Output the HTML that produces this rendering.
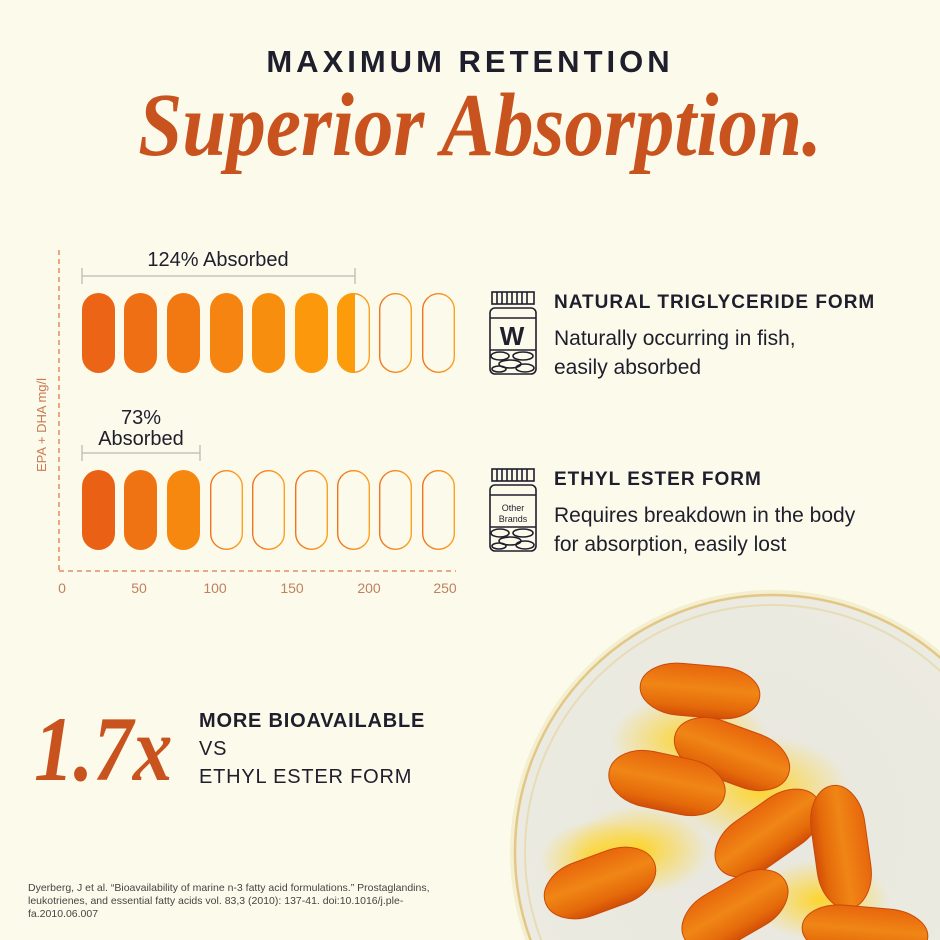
<!DOCTYPE html>
<html><head><meta charset="utf-8"><style>
html,body{margin:0;padding:0;background:#fcfbeb;overflow:hidden;width:940px;height:940px}
svg{display:block}
text{font-family:"Liberation Sans",sans-serif;}
</style></head><body>
<svg width="940" height="940" viewBox="0 0 940 940" xmlns="http://www.w3.org/2000/svg">
<defs>
<linearGradient id="ol" x1="0" x2="1">
<stop offset="0" stop-color="#f07420"/><stop offset="1" stop-color="#fca020"/>
</linearGradient>
<radialGradient id="dish" cx="0.45" cy="0.45" r="0.6">
<stop offset="0" stop-color="#e8e7df"/><stop offset="0.85" stop-color="#ecebe1"/><stop offset="1" stop-color="#f1eed8"/>
</radialGradient>
<linearGradient id="cap" x1="0" y1="0" x2="0" y2="1">
<stop offset="0" stop-color="#e8660c"/><stop offset="0.45" stop-color="#f08616"/><stop offset="0.8" stop-color="#e56a0a"/><stop offset="1" stop-color="#d24e08"/>
</linearGradient>
<radialGradient id="glow" cx="0.5" cy="0.5" r="0.5">
<stop offset="0" stop-color="#ffd21e" stop-opacity="0.9"/><stop offset="1" stop-color="#ffd21e" stop-opacity="0"/>
</radialGradient>
<clipPath id="pc"><rect x="337" y="293" width="18" height="80"/></clipPath>
<clipPath id="frame"><rect x="0" y="0" width="940" height="940"/></clipPath>
</defs>

<text x="470" y="72" text-anchor="middle" font-size="31" font-weight="bold" fill="#1f1e2c" letter-spacing="4">MAXIMUM RETENTION</text>
<text x="0" y="0" transform="translate(480,155) scale(0.88,1)" text-anchor="middle" font-style="italic" font-weight="bold" font-size="90" fill="#c9531e" style="font-family:'Liberation Serif',serif">Superior Absorption.</text>

<line x1="59" y1="250" x2="59" y2="571" stroke="#e07848" stroke-width="1.3" stroke-dasharray="5,4"/>
<line x1="59" y1="571" x2="456" y2="571" stroke="#e07848" stroke-width="1.3" stroke-dasharray="5,4"/>
<g font-size="14" fill="#c08060" text-anchor="middle">
<text x="62" y="593">0</text><text x="139" y="593">50</text><text x="215" y="593">100</text><text x="292" y="593">150</text><text x="369" y="593">200</text><text x="445" y="593">250</text>
</g>
<text transform="translate(46,425) rotate(-90)" text-anchor="middle" font-size="13" fill="#c97a50">EPA + DHA mg/l</text>

<g stroke="#bdbab0" stroke-width="1.3" fill="none">
<line x1="82" y1="276" x2="355" y2="276"/><line x1="82" y1="268" x2="82" y2="284"/><line x1="355" y1="268" x2="355" y2="284"/>
<line x1="82" y1="453" x2="200" y2="453"/><line x1="82" y1="445" x2="82" y2="461"/><line x1="200" y1="445" x2="200" y2="461"/>
</g>
<text x="218" y="266" text-anchor="middle" font-size="20" fill="#1f1e2c">124% Absorbed</text>
<text x="141" y="424" text-anchor="middle" font-size="20" fill="#1f1e2c">73%</text>
<text x="141" y="445" text-anchor="middle" font-size="20" fill="#1f1e2c">Absorbed</text>

<g>
<rect x="82" y="293" width="33" height="80" rx="16.5" fill="#ec6416"/>
<rect x="124" y="293" width="33" height="80" rx="16.5" fill="#ef6f14"/>
<rect x="167" y="293" width="33" height="80" rx="16.5" fill="#f27912"/>
<rect x="210" y="293" width="33" height="80" rx="16.5" fill="#f58410"/>
<rect x="252" y="293" width="33" height="80" rx="16.5" fill="#f88e0e"/>
<rect x="295" y="293" width="33" height="80" rx="16.5" fill="#fb980c"/>
<rect x="337.7" y="293.7" width="31.6" height="78.6" rx="15.8" fill="none" stroke="url(#ol)" stroke-width="1.4"/>
<rect x="337" y="293" width="33" height="80" rx="16.5" fill="#fc9c0b" clip-path="url(#pc)"/>
<rect x="379.7" y="293.7" width="31.6" height="78.6" rx="15.8" fill="none" stroke="url(#ol)" stroke-width="1.4"/>
<rect x="422.7" y="293.7" width="31.6" height="78.6" rx="15.8" fill="none" stroke="url(#ol)" stroke-width="1.4"/>
</g>
<g>
<rect x="82" y="470" width="33" height="80" rx="16.5" fill="#ea6015"/>
<rect x="124" y="470" width="33" height="80" rx="16.5" fill="#f07313"/>
<rect x="167" y="470" width="33" height="80" rx="16.5" fill="#f68810"/>
<g fill="none" stroke="url(#ol)" stroke-width="1.4">
<rect x="210.7" y="470.7" width="31.6" height="78.6" rx="15.8"/>
<rect x="252.7" y="470.7" width="31.6" height="78.6" rx="15.8"/>
<rect x="295.7" y="470.7" width="31.6" height="78.6" rx="15.8"/>
<rect x="337.7" y="470.7" width="31.6" height="78.6" rx="15.8"/>
<rect x="379.7" y="470.7" width="31.6" height="78.6" rx="15.8"/>
<rect x="422.7" y="470.7" width="31.6" height="78.6" rx="15.8"/>
</g>
</g>

<g stroke="#1f1e2c" stroke-width="1.6" fill="none">
<rect x="492" y="292" width="42" height="12"/>
<path d="M497 292v12M502 292v12M507 292v12M512 292v12M517 292v12M522 292v12M527 292v12"/>
<rect x="490" y="308" width="46" height="66" rx="5"/>
<line x1="490" y1="318" x2="536" y2="318"/><line x1="490" y1="350" x2="536" y2="350"/>
<ellipse cx="500" cy="356" rx="9" ry="4"/><ellipse cx="523" cy="356" rx="10" ry="4"/><ellipse cx="510" cy="364" rx="11" ry="4"/><ellipse cx="499" cy="369" rx="7" ry="3"/><ellipse cx="525" cy="368" rx="9" ry="4"/>
</g>
<text x="512" y="345" text-anchor="middle" font-size="26" font-weight="bold" fill="#1f1e2c">W</text>
<g stroke="#1f1e2c" stroke-width="1.6" fill="none">
<rect x="492" y="469" width="42" height="12"/>
<path d="M497 469v12M502 469v12M507 469v12M512 469v12M517 469v12M522 469v12M527 469v12"/>
<rect x="490" y="485" width="46" height="66" rx="5"/>
<line x1="490" y1="495" x2="536" y2="495"/><line x1="490" y1="527" x2="536" y2="527"/>
<ellipse cx="500" cy="533" rx="9" ry="4"/><ellipse cx="523" cy="533" rx="10" ry="4"/><ellipse cx="510" cy="541" rx="11" ry="4"/><ellipse cx="499" cy="546" rx="7" ry="3"/><ellipse cx="525" cy="545" rx="9" ry="4"/>
</g>
<text x="513" y="511" text-anchor="middle" font-size="9" fill="#1f1e2c">Other</text>
<text x="513" y="522" text-anchor="middle" font-size="9" fill="#1f1e2c">Brands</text>

<text x="554" y="308" font-size="19" font-weight="bold" fill="#1f1e2c" letter-spacing="1">NATURAL TRIGLYCERIDE FORM</text>
<text x="554" y="345" font-size="21" fill="#1f1e2c">Naturally occurring in fish,</text>
<text x="554" y="374" font-size="21" fill="#1f1e2c">easily absorbed</text>
<text x="554" y="485" font-size="19" font-weight="bold" fill="#1f1e2c" letter-spacing="1">ETHYL ESTER FORM</text>
<text x="554" y="522" font-size="21" fill="#1f1e2c">Requires breakdown in the body</text>
<text x="554" y="551" font-size="21" fill="#1f1e2c">for absorption, easily lost</text>

<text x="0" y="0" transform="translate(34,780) scale(0.86,1)" font-style="italic" font-weight="bold" font-size="92" fill="#c9531e" style="font-family:'Liberation Serif',serif">1.7x</text>
<text x="199" y="727" font-size="20" font-weight="bold" fill="#1f1e2c" letter-spacing="0.8">MORE BIOAVAILABLE</text>
<text x="199" y="755" font-size="20" fill="#1f1e2c" letter-spacing="0.8">VS</text>
<text x="199" y="783" font-size="20" fill="#1f1e2c" letter-spacing="0.8">ETHYL ESTER FORM</text>

<g font-size="10.5" fill="#444">
<text x="28" y="891">Dyerberg, J et al. “Bioavailability of marine n-3 fatty acid formulations.” Prostaglandins,</text>
<text x="28" y="904">leukotrienes, and essential fatty acids vol. 83,3 (2010): 137-41. doi:10.1016/j.ple-</text>
<text x="28" y="917">fa.2010.06.007</text>
</g>

<g clip-path="url(#frame)">
<circle cx="772" cy="852" r="262" fill="#f4efd0"/>
<circle cx="772" cy="852" r="257" fill="url(#dish)" stroke="#e3c785" stroke-width="2.5"/>
<circle cx="772" cy="852" r="247" fill="none" stroke="#e6dcb6" stroke-width="2"/>
<g>
<ellipse cx="690" cy="740" rx="80" ry="45" fill="url(#glow)"/>
<ellipse cx="640" cy="850" rx="70" ry="45" fill="url(#glow)"/>
<ellipse cx="760" cy="790" rx="90" ry="55" fill="url(#glow)"/>
<ellipse cx="600" cy="860" rx="60" ry="40" fill="url(#glow)"/>
<ellipse cx="820" cy="900" rx="70" ry="40" fill="url(#glow)"/>
</g>
<g fill="url(#cap)" stroke="#c94a08" stroke-width="1">
<rect x="-60" y="-26" width="120" height="52" rx="40" ry="26" transform="translate(700,691) rotate(5)"/>
<rect x="-60" y="-28" width="120" height="56" rx="40" ry="28" transform="translate(732,754) rotate(20)"/>
<rect x="-59" y="-28" width="118" height="56" rx="40" ry="28" transform="translate(667,783) rotate(12)"/>
<rect x="-60" y="-28" width="120" height="56" rx="40" ry="28" transform="translate(768,833) rotate(-35)"/>
<rect x="-62" y="-27" width="124" height="54" rx="40" ry="27" transform="translate(841,847) rotate(82)"/>
<rect x="-58" y="-28" width="116" height="56" rx="40" ry="28" transform="translate(600,883) rotate(-20)"/>
<rect x="-58" y="-28" width="116" height="56" rx="40" ry="28" transform="translate(735,910) rotate(-30)"/>
<rect x="-63" y="-25" width="126" height="50" rx="40" ry="25" transform="translate(865,932) rotate(5)"/>
</g>
</g>
</svg>
</body></html>
